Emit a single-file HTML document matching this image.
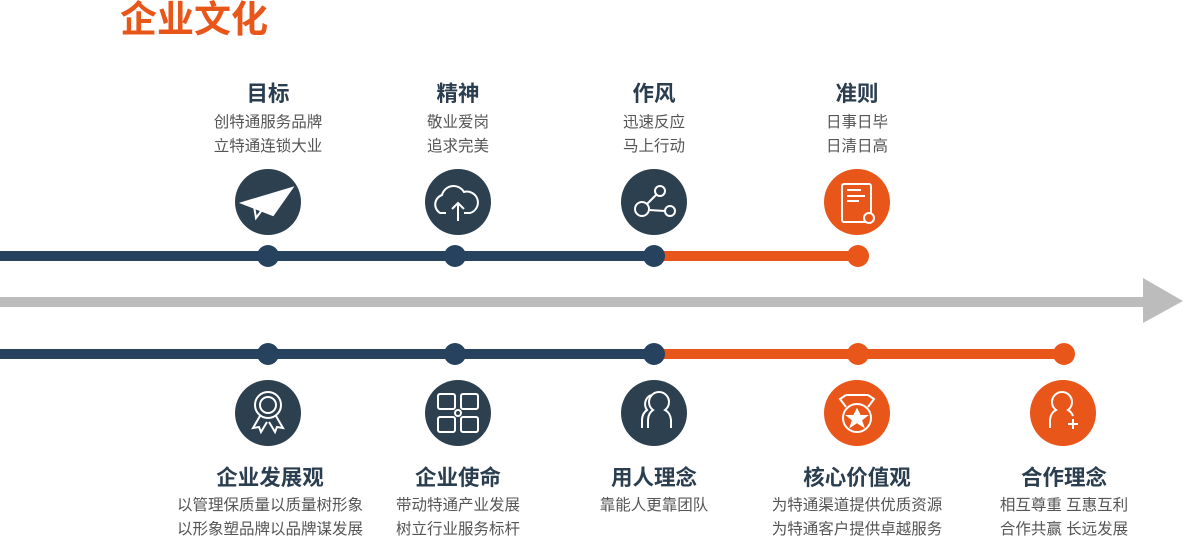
<!DOCTYPE html>
<html><head><meta charset="utf-8"><style>
body{margin:0;width:1183px;height:537px;background:#fff;overflow:hidden;font-family:"Liberation Sans","Noto Sans CJK SC",sans-serif;}
.t{position:absolute;font-size:21.5px;font-weight:bold;color:#2b3e50;text-align:center;width:260px;}
.s{position:absolute;font-size:15.5px;color:#555;text-align:center;width:260px;line-height:24px;}
</style></head><body>
<div style="position:absolute;left:120px;top:-2px;font-size:37px;font-weight:bold;color:#e8561a;line-height:44px;">企业文化</div>
<svg width="1183" height="537" style="position:absolute;left:0;top:0">
<g fill="none" stroke-linecap="butt">
<line x1="0" y1="256" x2="654" y2="256" stroke="#26425e" stroke-width="10"/>
<line x1="654" y1="256" x2="858" y2="256" stroke="#e8561a" stroke-width="10"/>
<line x1="0" y1="302" x2="1145" y2="302" stroke="#bcbcbc" stroke-width="10"/>
<line x1="0" y1="354" x2="654" y2="354" stroke="#26425e" stroke-width="10"/>
<line x1="654" y1="354" x2="1064" y2="354" stroke="#e8561a" stroke-width="10"/>
</g>
<polygon points="1143,278 1183,301 1143,323" fill="#bcbcbc"/>
<g fill="#26425e"><circle cx="268" cy="256" r="11"/><circle cx="455" cy="256" r="11"/><circle cx="654" cy="256" r="11"/>
<circle cx="268" cy="354" r="11"/><circle cx="455" cy="354" r="11"/><circle cx="654" cy="354" r="11"/></g>
<g fill="#e8561a"><circle cx="858" cy="256" r="11"/><circle cx="858" cy="354" r="11"/><circle cx="1064" cy="354" r="11"/></g>
<g fill="#2d4050"><circle cx="268" cy="202" r="33"/><circle cx="458" cy="202" r="33"/><circle cx="654" cy="202" r="33"/>
<circle cx="268" cy="413" r="33"/><circle cx="458" cy="413" r="33"/><circle cx="654" cy="413" r="33"/></g>
<g fill="#e8561a"><circle cx="857" cy="202" r="33"/><circle cx="857" cy="413" r="33"/><circle cx="1063" cy="413" r="33"/></g>
<g stroke="#fff" stroke-width="2" fill="none">
<polygon points="242,203 292,188 273,215" fill="#fff"/><path d="M254,206 L256,218 L262,210"/>
<path d="M446,213 h-6 a10,10 0 0 1 2,-18 a12,12 0 0 1 22,-3 a9,9 0 0 1 6,21 h-6"/><path d="M458,221 v-17 M452,209 l6,-6 l6,6"/>
<circle cx="642" cy="209" r="7"/><circle cx="660" cy="191" r="5"/><circle cx="670" cy="211" r="5"/><path d="M647,204 l9,-9 M649,210 l16,1"/>
<rect x="842" y="184" width="29" height="38" rx="2"/><path d="M847,190 h14 M847,196 h18 M847,201 h12"/><circle cx="869" cy="218" r="5" fill="#e8561a"/>
<circle cx="268" cy="405" r="8"/><circle cx="268" cy="405" r="13"/><path d="M260,416 l-7,12 l6,-1 l2,5 l6,-10 M276,416 l7,12 l-6,-1 l-2,5 l-6,-10"/>
<rect x="438" y="394" width="17" height="15" rx="2"/><rect x="461" y="394" width="17" height="15" rx="2"/><rect x="438" y="417" width="17" height="15" rx="2"/><rect x="461" y="417" width="17" height="15" rx="2"/><circle cx="458" cy="413" r="3"/>
<path d="M648,428 v-8 a10,12 0 0 1 5,-10 a10,10 0 1 1 12,0 a10,12 0 0 1 6,10 v8"/><path d="M642,428 v-8 a10,12 0 0 1 5,-10 a10,10 0 0 1 4,-15"/>
<path d="M846,395 l-6,4 l6,8 M868,395 l6,4 l-6,8 M846,395 h22"/><circle cx="857" cy="418" r="14"/><polygon points="857,410 860,416 866,416 861,420 863,426 857,422 851,426 853,420 848,416 854,416" fill="#fff"/>
<path d="M1050,428 v-8 a10,12 0 0 1 6,-10 a10,10 0 1 1 12,0 a10,12 0 0 1 5,6"/><path d="M1073,419 v10 M1068,424 h10"/>
</g>
</svg>
<div class="t" style="left:138px;top:77px">目标</div><div class="s" style="left:138px;top:111px">创特通服务品牌<br>立特通连锁大业</div>
<div class="t" style="left:328px;top:77px">精神</div><div class="s" style="left:328px;top:111px">敬业爱岗<br>追求完美</div>
<div class="t" style="left:524px;top:77px">作风</div><div class="s" style="left:524px;top:111px">迅速反应<br>马上行动</div>
<div class="t" style="left:727px;top:77px">准则</div><div class="s" style="left:727px;top:111px">日事日毕<br>日清日高</div>
<div class="t" style="left:140px;top:461px">企业发展观</div><div class="s" style="left:140px;top:494px">以管理保质量以质量树形象<br>以形象塑品牌以品牌谋发展</div>
<div class="t" style="left:328px;top:461px">企业使命</div><div class="s" style="left:328px;top:494px">带动特通产业发展<br>树立行业服务标杆</div>
<div class="t" style="left:524px;top:461px">用人理念</div><div class="s" style="left:524px;top:494px">靠能人更靠团队</div>
<div class="t" style="left:727px;top:461px">核心价值观</div><div class="s" style="left:727px;top:494px">为特通渠道提供优质资源<br>为特通客户提供卓越服务</div>
<div class="t" style="left:934px;top:461px">合作理念</div><div class="s" style="left:934px;top:494px">相互尊重 互惠互利<br>合作共赢 长远发展</div>
</body></html>
